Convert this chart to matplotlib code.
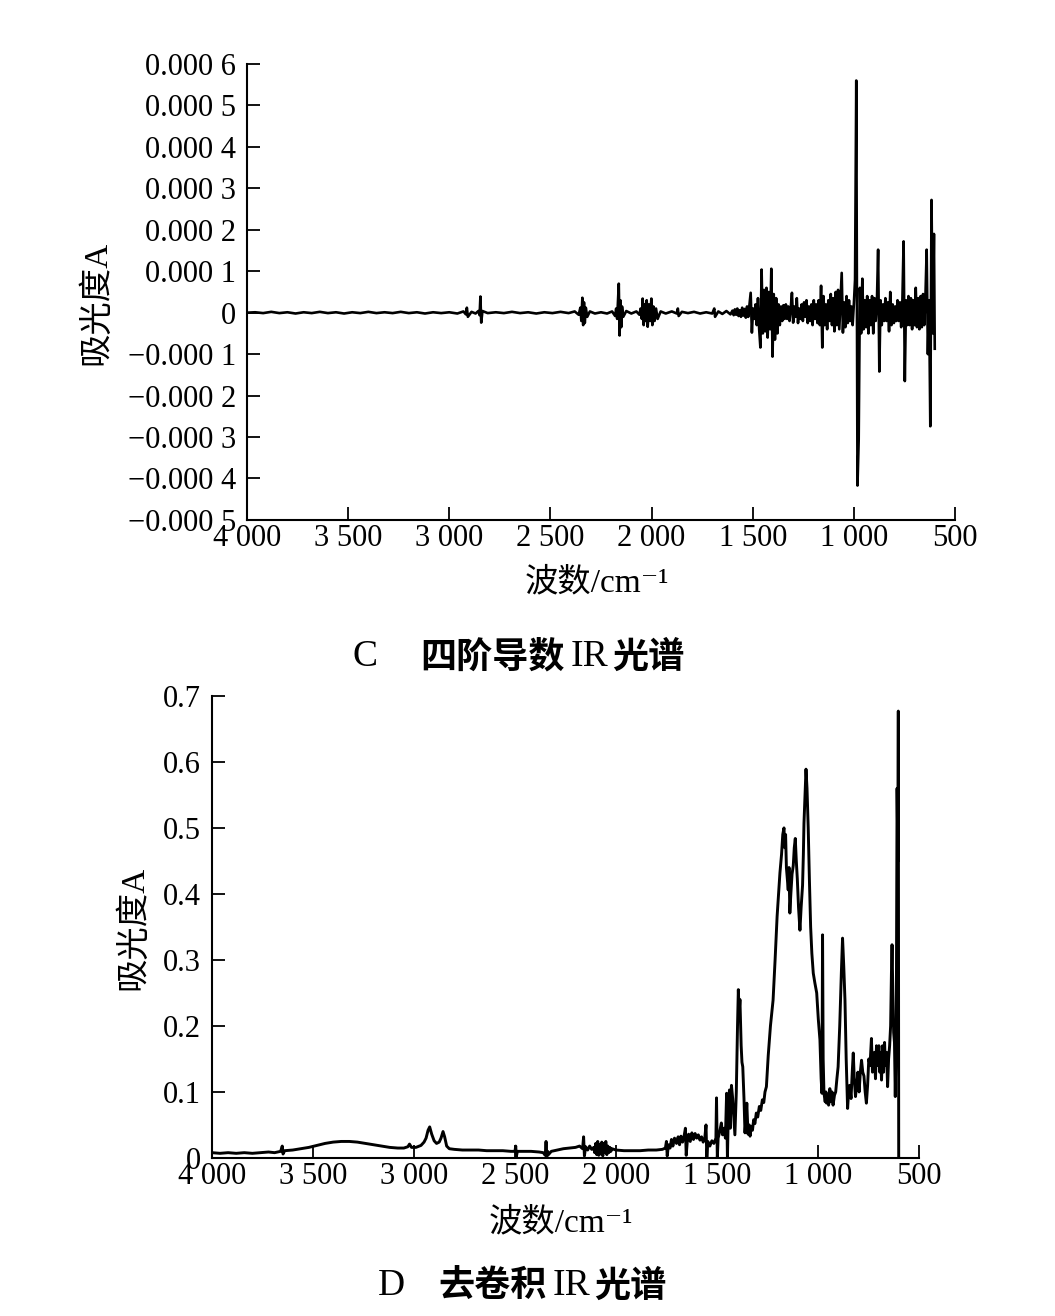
import numpy as np
import matplotlib
matplotlib.use("Agg")
import matplotlib.pyplot as plt

# ---- C: fourth-derivative spectrum (values in units of 1e-4) ----
# sparse part, 4000 -> 1610 cm-1
C_WN_A = [4000, 3960, 3920, 3880, 3840, 3800, 3760, 3720, 3680, 3640,
          3600, 3560, 3520, 3480, 3440, 3400, 3360, 3320, 3280, 3240,
          3200, 3160, 3120, 3080, 3040, 3000, 2960, 2930, 2918, 2913,
          2908, 2890, 2870, 2856, 2850, 2846, 2842, 2836, 2810, 2770,
          2730, 2690, 2650, 2610, 2570, 2530, 2490, 2450, 2410, 2380,
          2360, 2352, 2347, 2342, 2338, 2334, 2330, 2325, 2318, 2305,
          2280, 2250, 2220, 2195, 2180, 2175, 2170, 2166, 2162, 2158,
          2154, 2150, 2146, 2140, 2125, 2100, 2075, 2060, 2054, 2048,
          2044, 2039, 2034, 2029, 2024, 2019, 2013, 2007, 2001, 1996,
          1991, 1985, 1978, 1970, 1955, 1930, 1900, 1875, 1870, 1866,
          1850, 1820, 1790, 1760, 1730, 1700, 1690, 1686, 1670, 1650,
          1630, 1610]
C_VAL_A = [0.00, 0.01, -0.01, 0.02, -0.01, 0.01, -0.02, 0.01, -0.01, 0.02,
           -0.01, 0.01, -0.02, 0.01, -0.01, 0.02, -0.01, 0.01, -0.01, 0.02,
           -0.01, 0.01, -0.02, 0.01, -0.01, 0.01, -0.02, 0.03, -0.04, 0.12,
           -0.10, 0.02, -0.02, 0.04, -0.06, 0.39, -0.24, 0.04, -0.01, 0.01,
           -0.01, 0.02, -0.01, 0.01, -0.02, 0.01, -0.01, 0.02, -0.01, 0.03,
           -0.05, 0.12, -0.20, 0.36, -0.30, 0.25, -0.25, 0.12, -0.10, 0.03,
           -0.02, 0.01, -0.02, 0.03, -0.08, 0.10, -0.15, 0.25, 0.70, -0.55,
           0.30, -0.35, 0.15, -0.10, 0.04, -0.02, 0.03, -0.05, 0.10, -0.15,
           0.34, -0.30, 0.20, -0.20, 0.30, -0.34, 0.20, -0.20, 0.34, -0.30,
           0.15, -0.20, 0.10, -0.15, 0.03, -0.02, 0.03, -0.02, 0.10, -0.08,
           0.02, -0.01, 0.02, -0.02, 0.01, -0.02, 0.10, -0.10, 0.03, -0.03,
           0.04, -0.04]
# dense fingerprint part, sampled every 6 cm-1 from 1600 to 604
C_DENSE_START, C_DENSE_STEP = 1600, 6
C_VAL_B = [0.05, -0.06, 0.08, -0.05, 0.10, -0.08, 0.06, -0.10, 0.12, -0.07,
           0.09, -0.12, 0.15, -0.10, 0.20, 0.48, -0.48, 0.10, -0.15, 0.20,
           -0.30, 0.35, -0.40, -0.84, 1.04, -0.50, 0.55, -0.45, 0.60, -0.60,
           0.50, -0.40, 1.06, -1.06, 0.45, -0.65, 0.35, -0.50, 0.20, -0.30,
           0.15, -0.20, 0.18, -0.15, 0.20, -0.15, 0.15, -0.20, 0.10, 0.48,
           -0.24, 0.15, -0.10, 0.35, -0.25, 0.10, -0.15, 0.20, -0.20, 0.25,
           -0.10, 0.30, -0.25, 0.15, -0.20, 0.20, -0.30, 0.30, -0.15, 0.20,
           -0.25, 0.30, -0.30, 0.65, -0.84, 0.40, -0.30, 0.20, -0.40, 0.30,
           -0.20, 0.45, -0.30, 0.35, -0.45, 0.50, -0.30, 0.55, -0.40, 0.30,
           0.96, -0.48, 0.25, -0.35, 0.40, -0.25, 0.30, -0.20, 0.15, -0.30,
           0.20, 0.80, 5.60, -4.17, -3.06, 0.60, -0.50, 0.82, -0.40, 0.30,
           -0.35, 0.40, -0.50, 0.30, -0.30, 0.40, -0.50, 0.35, -0.20, 0.25,
           1.52, -1.42, 0.30, -0.30, 0.20, -0.20, 0.35, -0.20, 0.25, -0.45,
           0.50, -0.30, 0.20, -0.25, 0.15, -0.20, 0.30, -0.20, 0.25, -0.35,
           0.30, 1.72, -1.65, 0.30, -0.30, 0.40, -0.30, 0.35, -0.40, 0.30,
           -0.30, 0.60, -0.35, 0.35, -0.40, 0.40, -0.35, 0.45, -0.30, 0.40,
           1.52, -1.00, 0.30, -2.74, 2.72, -0.50, 1.90]
C_WN_END, C_VAL_END = 600, -0.87

C_YTICKS = [-0.0005, -0.0004, -0.0003, -0.0002, -0.0001, 0,
            0.0001, 0.0002, 0.0003, 0.0004, 0.0005, 0.0006]
C_YLABELS = ['\u22120.000 5', '\u22120.000 4', '\u22120.000 3', '\u22120.000 2',
             '\u22120.000 1', '0', '0.000 1', '0.000 2', '0.000 3', '0.000 4',
             '0.000 5', '0.000 6']

# ---- D: deconvolved spectrum ----
D_WN = [4000, 3960, 3920, 3880, 3840, 3800, 3760, 3720, 3690, 3660,
        3652, 3648, 3640, 3600, 3560, 3520, 3480, 3440, 3400, 3360,
        3320, 3280, 3240, 3200, 3160, 3120, 3080, 3050, 3030, 3022,
        3012, 2990, 2965, 2950, 2940, 2930, 2922, 2912, 2900, 2888,
        2875, 2866, 2856, 2848, 2838, 2825, 2800, 2760, 2720, 2680,
        2640, 2600, 2560, 2520, 2500, 2496, 2493, 2488, 2460, 2420,
        2380, 2360, 2350, 2346, 2342, 2338, 2334, 2320, 2290, 2260,
        2230, 2200, 2180, 2165, 2160, 2156, 2150, 2140, 2130, 2120,
        2110, 2105, 2100, 2095, 2090, 2085, 2080, 2075, 2070, 2065,
        2060, 2055, 2050, 2045, 2040, 2035, 2030, 2025, 2020, 2000,
        1960, 1920, 1880, 1840, 1800, 1770, 1755, 1750, 1746, 1740,
        1732, 1725, 1718, 1710, 1700, 1692, 1685, 1678, 1670, 1662,
        1656, 1652, 1646, 1640, 1632, 1624, 1616, 1608, 1600, 1592,
        1584, 1576, 1568, 1560, 1554, 1550, 1545, 1535, 1525, 1515,
        1505, 1502, 1498, 1494, 1486, 1478, 1472, 1464, 1458, 1452,
        1448, 1444, 1438, 1434, 1428, 1422, 1416, 1411, 1404, 1398,
        1394, 1390, 1386, 1380, 1376, 1372, 1366, 1361, 1356, 1352,
        1346, 1340, 1336, 1330, 1324, 1318, 1312, 1305, 1298, 1290,
        1283, 1275, 1268, 1262, 1255,
        1246, 1235, 1222, 1212, 1202, 1195, 1188, 1180, 1174, 1168,
        1164, 1160, 1156, 1151, 1147, 1143, 1139, 1134, 1128, 1122,
        1117, 1112, 1107, 1102, 1096, 1089, 1083, 1076, 1072, 1069,
        1064, 1059, 1054, 1048, 1042, 1036, 1030, 1023, 1015, 1006,
        998, 990, 984, 980, 977, 974, 970, 964, 960, 957,
        952, 947, 941, 936, 930, 925, 918, 912, 906, 900,
        892, 884, 878, 872, 866, 860, 853, 848, 843, 836,
        830, 825, 820, 814, 808, 802, 796, 790, 784, 778,
        772, 766, 760, 754, 748, 742, 735, 730, 725, 720,
        715, 710, 705, 698, 694, 690, 685, 680, 675, 670,
        666, 660, 655, 650, 645, 640, 636, 633, 629, 625,
        621, 617, 612, 608, 604, 602, 600]
D_ABS = [.008, .007, .008, .007, .008, .007, .008, .009, .008, .010,
         .018, .006, .011, .012, .014, .016, .019, .022, .024, .025,
         .025, .024, .022, .020, .018, .016, .015, .015, .017, .021,
         .016, .016, .019, .024, .030, .042, .047, .036, .026, .022,
         .024, .030, .040, .032, .018, .014, .013, .012, .012, .012,
         .011, .011, .011, .010, .010, .018, .002, .010, .010, .010,
         .009, .008, .004, .025, .002, .010, .005, .010, .012, .014,
         .015, .016, .018, .014, .032, .003, .017, .012, .018, .013,
         .016, .008, .022, .005, .025, .004, .020, .006, .024, .003,
         .022, .008, .025, .005, .018, .008, .016, .010, .014, .012,
         .011, .011, .011, .012, .012, .013, .015, .025, .003, .020,
         .015, .028, .018, .030, .022, .032, .020, .033, .024, .034,
         .045, .004, .028, .036, .025, .038, .028, .037, .030, .035,
         .027, .032, .024, .030, .050, .000, .025, .018, .026, .022,
         .030, .091, .000, .030, .040, .053, .035, .045, .030, .098,
         .000, .060, .103, .045, .110, .090, .060, .035, .100, .200,
         .255, .220, .240, .170, .145, .138, .090, .038, .060, .083,
         .036, .050, .033, .048, .042, .058, .052, .068, .062, .078,
         .072, .088, .084, .100, .108,
         .155, .200, .239, .300, .366, .400, .432, .460, .490, .500,
         .470, .490, .440, .420, .406, .440, .371, .400, .430, .443,
         .470, .484, .450, .423, .380, .345, .380, .413, .460, .507,
         .550, .589, .560, .500, .420, .350, .310, .280, .265, .250,
         .210, .179, .120, .098, .338, .150, .098, .085, .100, .083,
         .095, .080, .105, .085, .100, .080, .095, .100, .120, .138,
         .200, .280, .333, .290, .239, .150, .075, .100, .110, .090,
         .130, .159, .120, .093, .110, .130, .100, .130, .148, .130,
         .124, .100, .083, .110, .150, .140, .181, .130, .144, .160,
         .120, .170, .140, .170, .130, .160, .118, .170, .130, .175,
         .140, .160, .108, .150, .170, .200, .280, .323, .250, .190,
         .175, .093, .200, .560, .450, .677, .000]

D_YTICKS = [0, 0.1, 0.2, 0.3, 0.4, 0.5, 0.6, 0.7]
D_YLABELS = ['0', '0.1', '0.2', '0.3', '0.4', '0.5', '0.6', '0.7']

XTICKS = [4000, 3500, 3000, 2500, 2000, 1500, 1000, 500]
XLABELS = ['4 000', '3 500', '3 000', '2 500', '2 000', '1 500', '1 000', '500']

assert len(C_WN_A) == len(C_VAL_A)
assert len(D_WN) == len(D_ABS)

plt.rcParams['font.family'] = ['Liberation Serif', 'Noto Sans CJK SC', 'DejaVu Serif']
FS = 22
LABEL_FS = 24
W, H = 1055, 1316


def style_axes(ax, yticks, ylabels):
    for side in ['top', 'right']:
        ax.spines[side].set_visible(False)
    for side in ['left', 'bottom']:
        ax.spines[side].set_linewidth(1.5)
    ax.set_xlim(4000, 500)
    ax.set_xticks(XTICKS)
    ax.set_xticklabels(XLABELS)
    ax.set_yticks(yticks)
    ax.set_yticklabels(ylabels)
    ax.tick_params(axis='both', direction='in', length=9.5, width=1.3, labelsize=FS)
    ax.tick_params(axis='y', pad=8)
    ax.tick_params(axis='x', pad=3)
    ax.set_xlabel('波数/cm\u207b\u00b9', fontsize=LABEL_FS)
    ax.set_ylabel('吸光度A', fontsize=LABEL_FS)


def caption(fig, pieces, y_px):
    # pieces: (text, left edge in px, is_chinese)
    for txt, x_px, cjk in pieces:
        if cjk:
            fig.text(x_px / W, 1 - y_px / H, txt, ha='left', va='center', fontsize=26,
                     family='Noto Sans CJK SC', weight='bold')
        else:
            fig.text(x_px / W, 1 - y_px / H, txt, ha='left', va='center', fontsize=27,
                     family='Liberation Serif')


fig = plt.figure(figsize=(W / 100, H / 100), dpi=100)

# top panel C
ax1 = fig.add_axes([0.2341, 0.6049, 0.6711, 0.3465])
wn_c = np.concatenate([C_WN_A, np.arange(C_DENSE_START, C_WN_END, -C_DENSE_STEP), [C_WN_END]])
val_c = np.concatenate([C_VAL_A, C_VAL_B, [C_VAL_END]]) * 1e-4
ax1.plot(wn_c, val_c, color='black', lw=1.9)
ax1.set_ylim(-0.0005, 0.0006)
style_axes(ax1, C_YTICKS, C_YLABELS)
ax1.yaxis.set_label_coords(-0.19, 0.476)
ax1.xaxis.set_label_coords(0.494, -0.105)

# bottom panel D
ax2 = fig.add_axes([0.2009, 0.1201, 0.6701, 0.3511])
ax2.plot(D_WN, D_ABS, color='black', lw=2.1)
ax2.set_ylim(0, 0.7)
style_axes(ax2, D_YTICKS, D_YLABELS)
ax2.yaxis.set_label_coords(-0.088, 0.497)
ax2.xaxis.set_label_coords(0.494, -0.108)

caption(fig, [('C', 353, False), ('四阶导数', 420, True), ('IR', 571, False), ('光谱', 612, True)], 657)
caption(fig, [('D', 378, False), ('去卷积', 438, True), ('IR', 553, False), ('光谱', 594, True)], 1286)

fig.savefig('out.png', dpi=100)
